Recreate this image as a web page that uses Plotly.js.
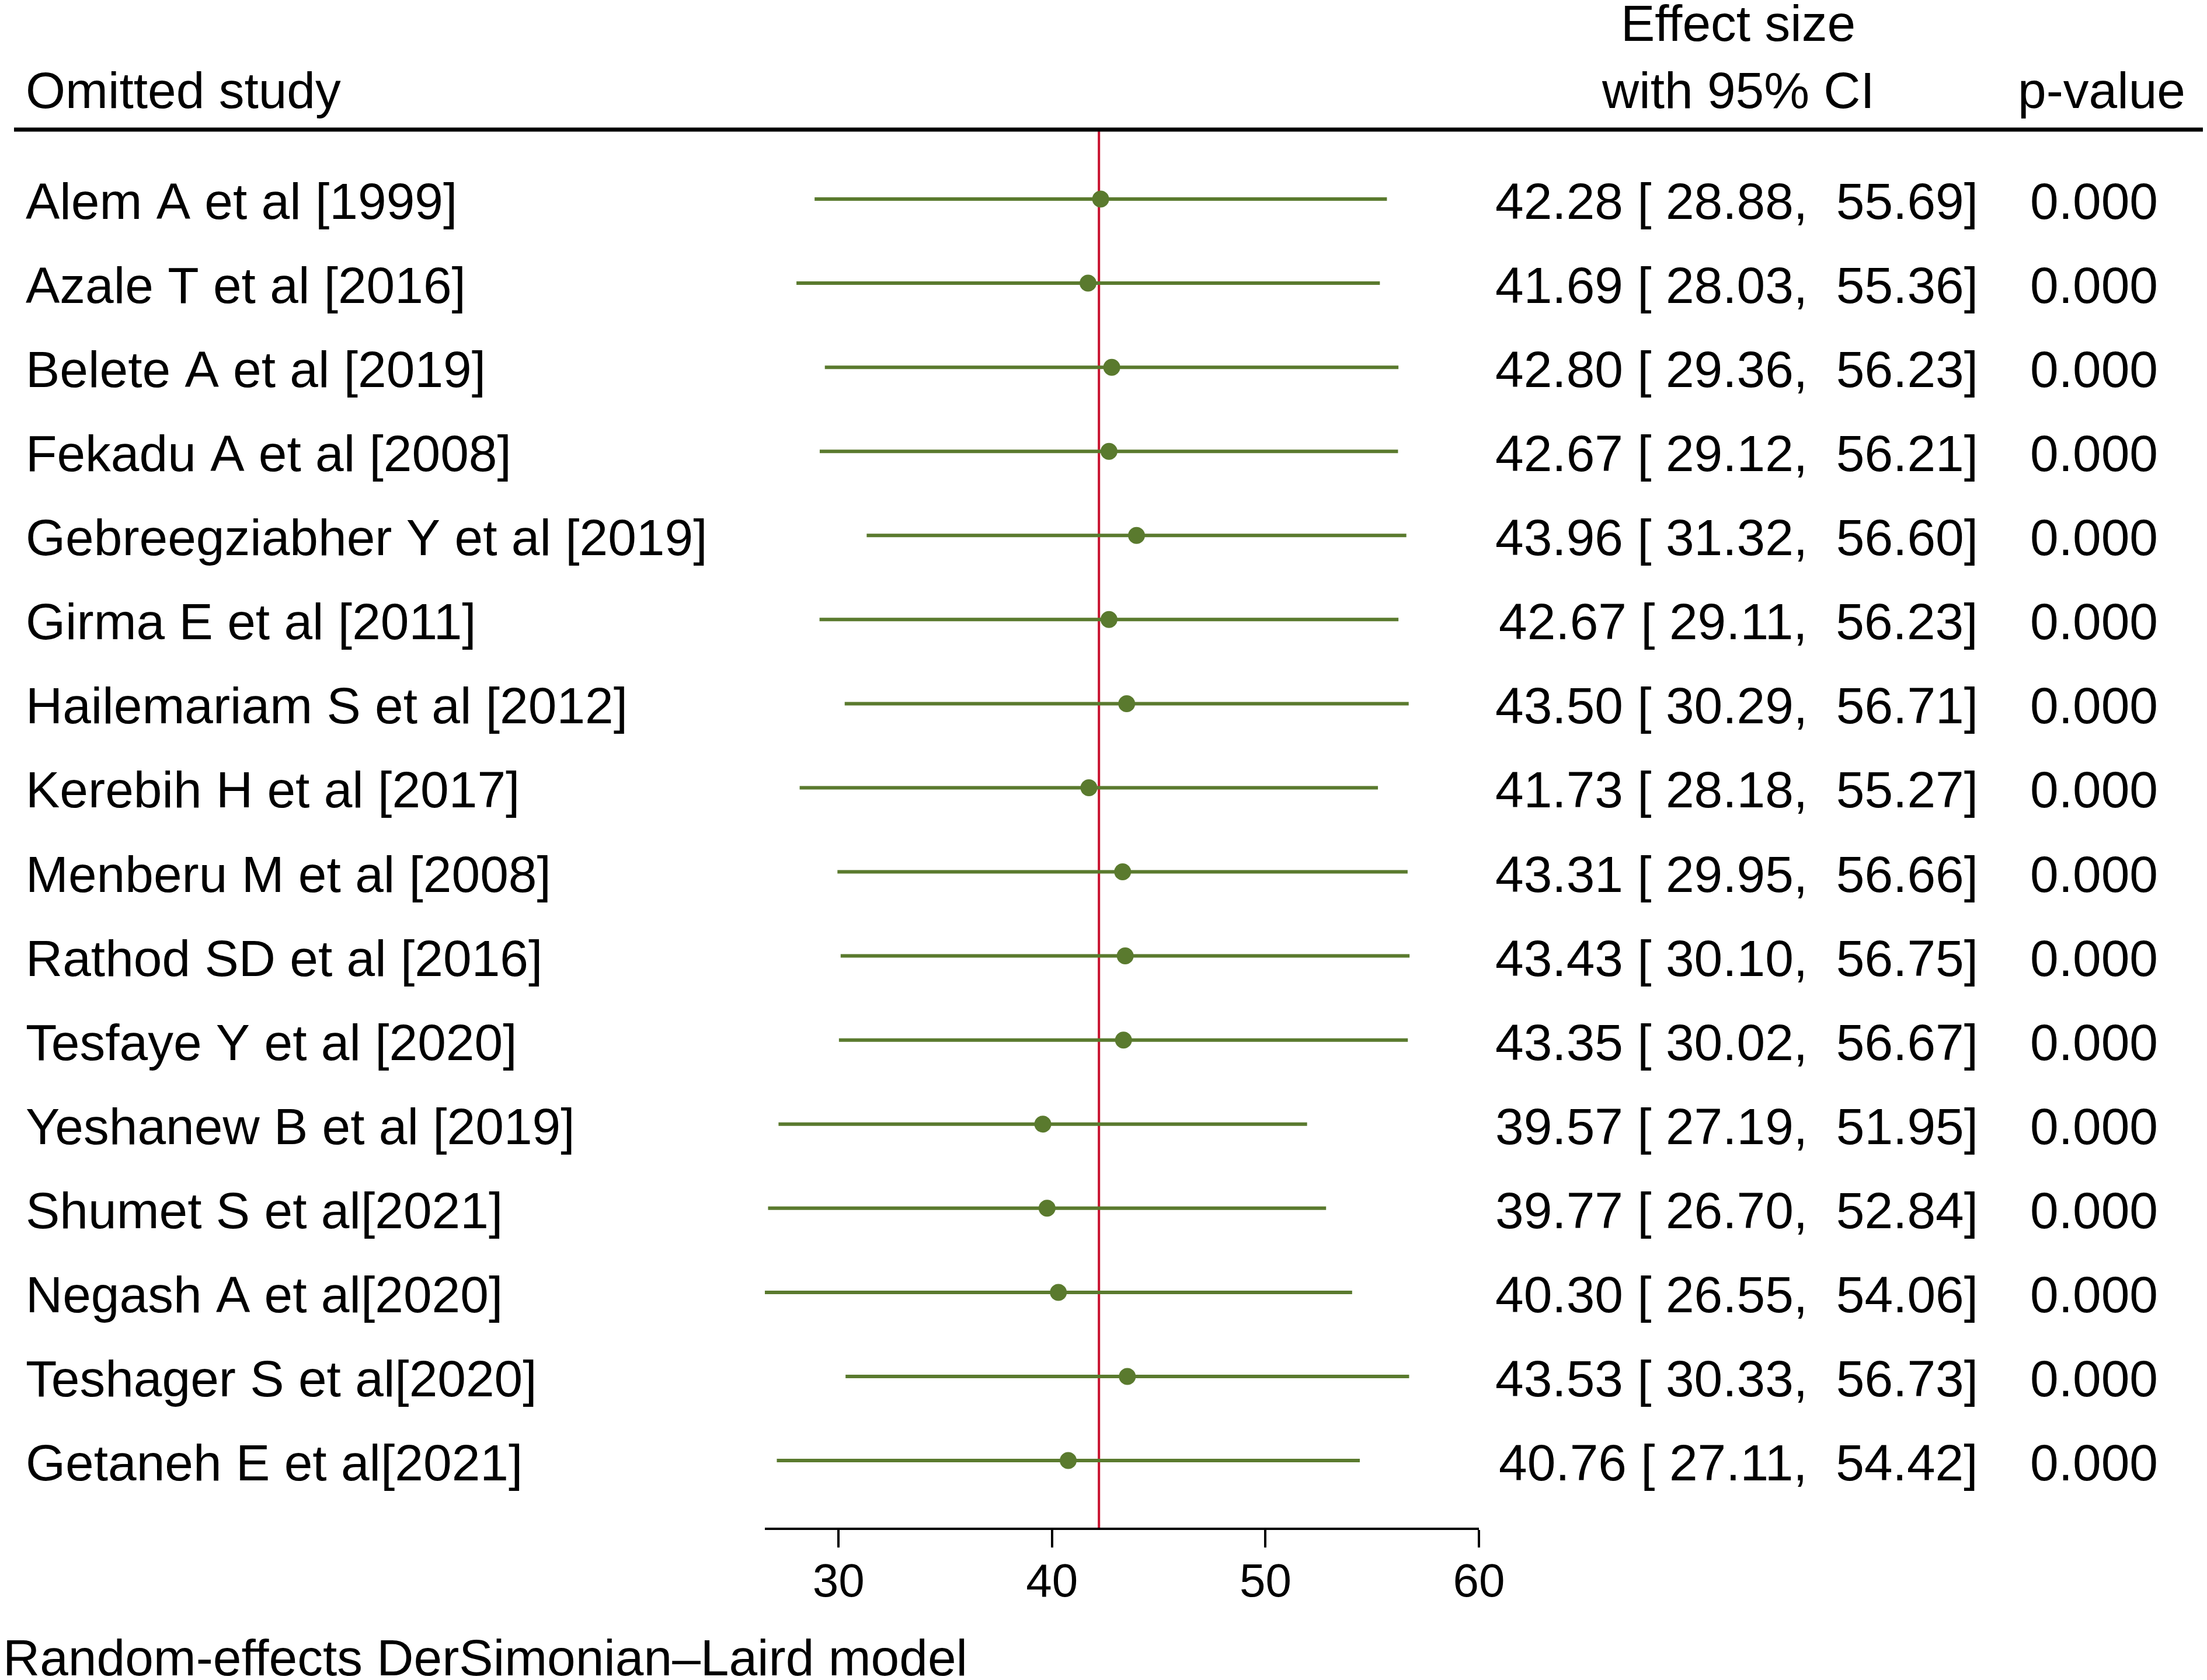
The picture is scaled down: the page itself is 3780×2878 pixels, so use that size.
<!DOCTYPE html>
<html>
<head>
<meta charset="utf-8">
<script src="https://cdn.plot.ly/plotly-3.0.1.min.js"></script>
<style>html,body{margin:0;padding:0;background:#fff;}</style>
</head>
<body>
<div id="chart" style="width:3780px;height:2878px;"></div>
<script>
const studies = [
  "Alem A et al [1999]",
  "Azale T et al [2016]",
  "Belete A et al [2019]",
  "Fekadu A et al [2008]",
  "Gebreegziabher Y et al [2019]",
  "Girma E et al [2011]",
  "Hailemariam S et al [2012]",
  "Kerebih H et al [2017]",
  "Menberu M et al [2008]",
  "Rathod SD et al [2016]",
  "Tesfaye Y et al [2020]",
  "Yeshanew B et al [2019]",
  "Shumet S et al[2021]",
  "Negash A et al[2020]",
  "Teshager S et al[2020]",
  "Getaneh E et al[2021]"
];
const estimate = [42.28, 41.69, 42.80, 42.67, 43.96, 42.67, 43.50, 41.73, 43.31, 43.43, 43.35, 39.57, 39.77, 40.30, 43.53, 40.76];
const lower    = [28.88, 28.03, 29.36, 29.12, 31.32, 29.11, 30.29, 28.18, 29.95, 30.10, 30.02, 27.19, 26.70, 26.55, 30.33, 27.11];
const upper    = [55.69, 55.36, 56.23, 56.21, 56.60, 56.23, 56.71, 55.27, 56.66, 56.75, 56.67, 51.95, 52.84, 54.06, 56.73, 54.42];
const pvalues  = ["0.000","0.000","0.000","0.000","0.000","0.000","0.000","0.000","0.000","0.000","0.000","0.000","0.000","0.000","0.000","0.000"];
const overall  = 42.20;
const xTicks   = [30, 40, 50, 60];
const headers  = {study: "Omitted study", es1: "Effect size", es2: "with 95% CI", p: "p-value"};
const footnote = "Random-effects DerSimonian\u2013Laird model";

const W = 3780, H = 2878;
const FONT = "Liberation Sans, Arial, Helvetica, sans-serif";
const GREEN = "#5A7A2E";
const RED = "#C8102E";
const rows = studies.map((_, i) => i + 1);
const px = v => v / W;
const py = v => (H - v) / H;
const nb = s => s.replace(/ /g, "\u00A0");
const pad6 = v => { let s = v.toFixed(2); while (s.length < 6) s = " " + s; return s; };

const trace = {
  type: "scatter",
  mode: "markers",
  x: estimate,
  y: rows,
  marker: {color: GREEN, size: 29},
  error_x: {
    type: "data",
    symmetric: false,
    array: upper.map((u, i) => u - estimate[i]),
    arrayminus: lower.map((l, i) => estimate[i] - l),
    color: GREEN,
    thickness: 6,
    width: 0
  },
  hoverinfo: "skip",
  showlegend: false
};

const annotations = [];
const txtFont = {family: FONT, size: 87.5, color: "#000"};
studies.forEach((s, i) => {
  annotations.push({xref: "paper", yref: "y", x: px(42), y: rows[i], yshift: -4, text: nb(s),
    xanchor: "left", yanchor: "middle", showarrow: false, font: txtFont});
  const es = estimate[i].toFixed(2) + " [" + pad6(lower[i]) + ", " + pad6(upper[i]) + "]";
  annotations.push({xref: "paper", yref: "y", x: px(3390), y: rows[i], yshift: -4, text: nb(es),
    xanchor: "right", yanchor: "middle", showarrow: false, font: txtFont});
  annotations.push({xref: "paper", yref: "y", x: px(3698), y: rows[i], yshift: -4, text: pvalues[i],
    xanchor: "right", yanchor: "middle", showarrow: false, font: txtFont});
});
annotations.push({xref: "paper", yref: "paper", x: px(42), y: py(155), text: nb(headers.study),
  xanchor: "left", yanchor: "middle", showarrow: false, font: txtFont});
annotations.push({xref: "paper", yref: "paper", x: px(2977), y: py(40), text: nb(headers.es1),
  xanchor: "center", yanchor: "middle", showarrow: false, font: txtFont});
annotations.push({xref: "paper", yref: "paper", x: px(2977), y: py(155), text: nb(headers.es2),
  xanchor: "center", yanchor: "middle", showarrow: false, font: txtFont});
annotations.push({xref: "paper", yref: "paper", x: px(3454), y: py(155), text: headers.p,
  xanchor: "left", yanchor: "middle", showarrow: false, font: txtFont});
annotations.push({xref: "paper", yref: "paper", x: px(3), y: py(2840), text: nb(footnote),
  xanchor: "left", yanchor: "middle", showarrow: false, font: txtFont});

const layout = {
  width: W, height: H,
  margin: {l: 0, r: 0, t: 0, b: 0, pad: 0},
  paper_bgcolor: "#fff", plot_bgcolor: "#fff",
  showlegend: false,
  xaxis: {
    domain: [px(1310), px(2533)],
    range: [26.55, 60],
    showgrid: false, zeroline: false,
    showline: true, linecolor: "#000", linewidth: 4,
    ticks: "outside", ticklen: 30, tickwidth: 4, tickcolor: "#000",
    tickvals: xTicks, ticktext: xTicks.map(String),
    tickfont: {family: FONT, size: 80, color: "#000"},
    ticklabelstandoff: -12,
    fixedrange: true
  },
  yaxis: {
    domain: [py(2617), py(222)],
    range: [16.798, 0.174],
    visible: false,
    fixedrange: true
  },
  shapes: [
    {type: "line", xref: "x", yref: "paper", x0: overall, x1: overall, y0: py(2617), y1: py(224),
      line: {color: RED, width: 4}, layer: "below"},
    {type: "line", xref: "paper", yref: "paper", x0: px(24), x1: px(3773), y0: py(222), y1: py(222),
      line: {color: "#000", width: 7}}
  ],
  annotations: annotations
};

Plotly.newPlot("chart", [trace], layout, {staticPlot: true, displayModeBar: false});
</script>
</body>
</html>
